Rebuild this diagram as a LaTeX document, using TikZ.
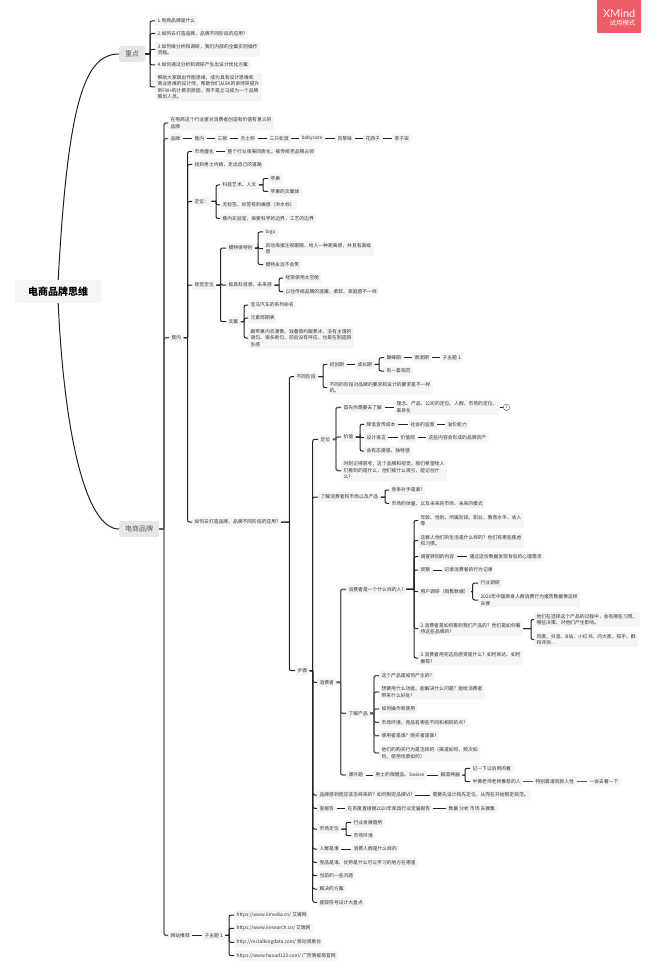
\documentclass[tikz,border=0pt]{standalone}
\usepackage{fontspec}
\setmainfont{Noto Sans CJK SC}
\newfontfamily\badgefont{Lato}
\usepackage{xcolor}
\definecolor{boxgray}{HTML}{F5F5F5}
\definecolor{maingray}{HTML}{E6E6E6}
\definecolor{inkgray}{HTML}{333333}
\definecolor{linkdark}{HTML}{222222}
\definecolor{linkgray}{HTML}{5A5A5A}
\definecolor{badgered}{HTML}{EF5B67}
\tikzset{
  topic/.style={anchor=west,fill=boxgray,rounded corners=1.5pt,text=inkgray,align=left,
    font=\fontsize{4.8}{6.5}\selectfont,inner xsep=2.4pt,inner ysep=2pt,minimum height=10pt},
  maintopic/.style={anchor=west,fill=maingray,rounded corners=2pt,text=linkgray,
    font=\fontsize{7}{9}\selectfont,inner xsep=6pt,minimum height=16pt},
  link/.style={draw=linkdark,line width=1pt},
  heavylink/.style={draw=linkgray,line width=1.4pt},
  bus/.style={to path={(\tikztostart.east) -- (#1,0 |- \tikztostart.east) ++(0,0)
    [rounded corners=2pt] |- (\tikztotarget.west)}}
}
\begin{document}
\begin{tikzpicture}[x=1pt,y=-1pt]
\useasboundingbox (0,0) rectangle (658,976);

\node[anchor=west,fill=boxgray,rounded corners=2pt,font=\fontsize{10}{12}\selectfont\bfseries,
  minimum width=86pt,minimum height=23pt,inner xsep=11pt] (root) at (15,291.5) {电商品牌思维};
\node[maintopic] (key) at (119,54) {重点};
\node[maintopic] (brand) at (119,529) {电商品牌};

\node[topic] (k1) at (155,21) {1.电商品牌是什么};
\node[topic] (k2) at (155,33.5) {2.如何去打造品牌，品牌不同阶段的应用?};
\node[topic] (k3) at (155,49.5) {3.如何做分析和调研，我们内部的全案实则操作\\流程。};
\node[topic] (k4) at (155,65) {4.如何通过分析和调研产生出设计优化方案};
\node[topic] (k5) at (155,87) {帮助大家跳出作图思维，成为具有设计思维和\\商业思维的设计师，帮助你们从5K的讲师突提升\\到FW+的计薪页原因，而不是立马成为一个品牌\\策划人员。};

\node[topic] (mean) at (168,123) {在电商这个行业里对消费者创造有价值有意义的\\品牌};
\node[topic] (names) at (168,138.5) {品牌};
\node[topic] (n1) at (192,138.5) {蕉内};
\node[topic] (n2) at (215,138.5) {三顿};
\node[topic] (n3) at (238,138.5) {杰士邦};
\node[topic] (n4) at (267,138.5) {三只松鼠};
\node[topic] (n5) at (299,138.5) {babycare};
\node[topic] (n6) at (335,138.5) {百草味};
\node[topic] (n7) at (363,138.5) {花西子};
\node[topic] (n8) at (392,138.5) {李子柒};

\node[topic] (bn) at (169,337.7) {蕉内};
\node[topic] (mkt) at (192,151.5) {市场僵化};
\node[topic] (mktb) at (225,151.5) {整个行业审美同质化，被传统老品牌占领};
\node[topic] (men) at (192,164.5) {找到男士内裤，走出自己的道路};
\node[topic] (pos) at (192,201.5) {定位：};
\node[topic] (art) at (220,185) {科技艺术、人文};
\node[topic] (apple) at (268,178.5) {苹果};
\node[topic] (applec) at (268,191.5) {苹果的文案体};
\node[topic] (tag) at (220,205) {无标签、标签有刺痛感（洪水标）};
\node[topic] (lab) at (220,218.5) {蕉内实验室，探索科学的边界，工艺的边界};
\node[topic] (vis) at (192,285) {视觉定位};
\node[topic] (model) at (226,248) {模特很特别};
\node[topic] (logo) at (263,232) {logo};
\node[topic] (gaze) at (263,248.5) {启动海报注视跟随、给人一种距离感，并且有高级\\感};
\node[topic] (smile) at (263,264.5) {模特永远不会笑};
\node[topic] (tech) at (226,285) {极具科技感、未来感};
\node[topic] (cap) at (283,278) {经常使用太空舱};
\node[topic] (warm) at (283,291.7) {以往传统品牌的温暖、柔软、家庭感不一样};
\node[topic] (copy) at (226,321.7) {文案};
\node[topic] (bmw) at (248,305) {宝马汽车的系列命名};
\node[topic] (elem) at (248,318) {元素周期表};
\node[topic] (style) at (248,338) {跟苹果内衣漫像、钱叠简约跟蕉冰、没有主谓的\\语句、很多断句、前后没有呼应、也是在制造陌\\生感};

\node[topic] (how) at (192,522) {如何去打造品牌，品牌不同阶段的应用?};
\node[topic] (stage) at (294,376.7) {不同阶段};
\node[topic] (s1) at (327,364.3) {初创期};
\node[topic] (s2) at (355,364.3) {成长期};
\node[topic] (s3) at (384,357.7) {巅峰期};
\node[topic] (s4) at (412,357.7) {衰退期};
\node[topic] (s5) at (440,357.7) {子主题 1};
\node[topic] (s6) at (384,371) {有一套规范};
\node[topic] (s7) at (327,387.6) {不同的阶段对品牌的要求和设计的要求是不一样\\的。};

\node[topic] (steps) at (295,670.7) {步骤};
\node[topic] (loc) at (318,439.3) {定位};
\node[topic] (first) at (341,407.3) {首先你需要去了解};
\node[topic] (idea) at (394,407.3) {理念、产品、公司的定位、人群、市场的定位、\\差异化};
\node[circle,draw=linkgray,fill=white,text=inkgray,font=\fontsize{4}{4}\selectfont,inner sep=0pt,minimum size=6.5pt] (note) at (506.5,407.3) {1};
\node[topic] (val) at (341,437) {价值};
\node[topic] (v1) at (364,424.3) {降低宣传成本};
\node[topic] (v2) at (408,424.3) {社会的监督};
\node[topic] (v3) at (445,424.3) {溢价能力};
\node[topic] (v4) at (364,437.7) {设计语言};
\node[topic] (v5) at (398,437.7) {价值观};
\node[topic] (v6) at (426,437.7) {这些内容会形成的品牌资产};
\node[topic] (v7) at (364,451) {会有态度感、独特感};
\node[topic] (mind) at (341,470.6) {时刻记得思考，这个品牌和视觉，我们希望给人\\们看到的是什么，他们被什么吸引，能记住什\\么?};
\node[topic] (know) at (318,497) {了解消费者和市场以及产品};
\node[topic] (rival) at (389,490) {竞争对手是谁?};
\node[topic] (size) at (389,503.3) {市场的体量、以及未来的市场、未来的模式};

\node[topic] (cons) at (317,682.3) {消费者};
\node[topic] (who) at (346,589.3) {消费者是一个什么样的人?};
\node[topic] (w1) at (418,520.5) {年龄、性别、所属阶段、职业、教育水平、收入\\等};
\node[topic] (w2) at (418,540.5) {这群人他们的生活是什么样的？他们有哪些焦虑\\和习惯。};
\node[topic] (w3) at (418,556.7) {调查转回的内容};
\node[topic] (w3b) at (467,556.7) {通过这份数据发现背后的心理需求};
\node[topic] (w4) at (418,570) {观察};
\node[topic] (w4b) at (442,570) {记录消费者的行为记录};
\node[topic] (w5) at (418,591.7) {用户调研（销售数据）};
\node[topic] (w5a) at (478,583) {行业调研};
\node[topic] (w5b) at (478,600) {2020年中国单身人群消费行为报告数据像这样\\去搜};
\node[topic] (w6) at (418,628.5) {2.消费者是如何看到我们产品的？他们是如何看\\待这些品牌的?};
\node[topic] (w6a) at (534,619.5) {他们在选择这个产品的过程中，会有哪些习惯、\\哪些决策、对他们产生影响。};
\node[topic] (w6b) at (534,639.5) {百度、抖音、B站、小红书、问大家、知乎、群\\和评测...};
\node[topic] (w7) at (418,658) {3.消费者用完这后感受是什么？如何表达、如何\\推荐?};

\node[topic] (prod) at (346,713.3) {了解产品};
\node[topic] (p1) at (379,675.7) {这个产品是如何产生的?};
\node[topic] (p2) at (379,692) {想要用什么功能、能解决什么问题？能给消费者\\带来什么好处?};
\node[topic] (p3) at (379,709) {如何操作和使用};
\node[topic] (p4) at (379,722.3) {市场环境、竞品有哪些不同和相同的点?};
\node[topic] (p5) at (379,735.7) {使用者是谁？购买者是谁?};
\node[topic] (p6) at (379,753) {他们的购买行为是怎样的（渠道如何、频次如\\何、使用场景如何）};
\node[topic] (ext) at (346,775) {课外题};
\node[topic] (e1) at (373,775) {男士的保健品、Swisse};
\node[topic] (e2) at (438,775) {解酒神器};
\node[topic] (e3) at (470,768.3) {记一下以后用的着};
\node[topic] (e4) at (470,781.7) {半佛老师老师推荐的人};
\node[topic] (e5) at (533,781.7) {特别靠谱同款人性};
\node[topic] (e6) at (587,781.7) {一会去看一下};

\node[topic] (vi) at (317,795) {品牌感到而应该怎样来的？如何制定品牌VI?};
\node[topic] (vib) at (430,795) {需要先设计和先定位、从而在开始制定规范。};
\node[topic] (rep) at (317,808.3) {查报告};
\node[topic] (repa) at (345,808.3) {在百度直接搜2020年家具行业定届报告};
\node[topic] (repb) at (446,808.3) {数据 分析 市场 去搜集};
\node[topic] (mpos) at (317,829) {市场定位};
\node[topic] (mp1) at (351,822.3) {行业发展趋势};
\node[topic] (mp2) at (351,835.7) {市场环境};
\node[topic] (crowd) at (317,849) {人群是谁};
\node[topic] (crowdb) at (351,849) {消费人群是什么样的};
\node[topic] (comp) at (317,862.3) {竞品是谁、优势是什么可以学习的地方在哪里};
\node[topic] (prob) at (317,875.7) {当前的一些问题};
\node[topic] (sol) at (317,889) {解决的方案};
\node[topic] (sym) at (317,902.3) {提取符号设计大盘点};

\node[topic] (web) at (168,935.3) {网站推荐};
\node[topic] (subt) at (202,935.3) {子主题 1};
\node[topic] (u1) at (234,915) {https://www.iimedia.cn/ 艾媒网};
\node[topic] (u2) at (234,928.3) {https://www.iresearch.cn/ 艾瑞网};
\node[topic] (u3) at (234,942.3) {http://mi.talkingdata.com/ 移动观象台};
\node[topic] (u4) at (234,955.7) {https://www.haoad123.com/ 广告情报局官网};

\node[fill=badgered,minimum width=44pt,minimum height=33pt,inner sep=0pt] (badge) at (619,16.5) {};
\node[anchor=east,text=white,font=\badgefont\fontsize{11}{11}\selectfont,inner sep=0pt] (bname) at (635.5,13.5) {XMind};
\node[anchor=east,text=white,font=\fontsize{6.4}{7}\selectfont,inner sep=0pt] (bmode) at (635.5,23.5) {试用模式};

\draw[link] (root.north) .. controls (68,100) and (85,54) .. (key.west);
\draw[link] (root.south) .. controls (64,430) and (85,529) .. (brand.west);

\draw[link] (key) to[bus=150] (k1);
\draw[link] (key) to[bus=150] (k2);
\draw[link] (key) to[bus=150] (k3);
\draw[link] (key) to[bus=150] (k4);
\draw[link] (key) to[bus=150] (k5);

\draw[heavylink] (brand) to[bus=164] (mean);
\draw[heavylink] (brand) to[bus=164] (names);
\draw[heavylink] (brand) to[bus=164] (bn);
\draw[heavylink] (brand) to[bus=164] (web);
\draw[link] (names) to (n1);
\draw[link] (n1) to (n2);
\draw[link] (n2) to (n3);
\draw[link] (n3) to (n4);
\draw[link] (n4) to (n5);
\draw[link] (n5) to (n6);
\draw[link] (n6) to (n7);
\draw[link] (n7) to (n8);

\draw[link] (bn) to[bus=187.5] (mkt);
\draw[link] (bn) to[bus=187.5] (men);
\draw[link] (bn) to[bus=187.5] (pos);
\draw[link] (bn) to[bus=187.5] (vis);
\draw[link] (bn) to[bus=187.5] (how);
\draw[link] (mkt) to (mktb);
\draw[link] (pos) to[bus=216] (art);
\draw[link] (pos) to[bus=216] (tag);
\draw[link] (pos) to[bus=216] (lab);
\draw[link] (art) to[bus=263] (apple);
\draw[link] (art) to[bus=263] (applec);
\draw[link] (vis) to[bus=220.5] (model);
\draw[link] (vis) to[bus=220.5] (tech);
\draw[link] (vis) to[bus=220.5] (copy);
\draw[link] (model) to[bus=258] (logo);
\draw[link] (model) to[bus=258] (gaze);
\draw[link] (model) to[bus=258] (smile);
\draw[link] (tech) to[bus=279] (cap);
\draw[link] (tech) to[bus=279] (warm);
\draw[link] (copy) to[bus=244] (bmw);
\draw[link] (copy) to[bus=244] (elem);
\draw[link] (copy) to[bus=244] (style);

\draw[link] (how) to[bus=289.3] (stage);
\draw[link] (how) to[bus=289.3] (steps);
\draw[link] (stage) to[bus=323] (s1);
\draw[link] (stage) to[bus=323] (s7);
\draw[link] (s1) to (s2);
\draw[link] (s2) to[bus=379] (s3);
\draw[link] (s2) to[bus=379] (s6);
\draw[link] (s3) to (s4);
\draw[link] (s4) to (s5);

\draw[link] (steps) to[bus=312.7] (loc);
\draw[link] (steps) to[bus=312.7] (know);
\draw[link] (steps) to[bus=312.7] (cons);
\draw[link] (steps) to[bus=312.7] (vi);
\draw[link] (steps) to[bus=312.7] (rep);
\draw[link] (steps) to[bus=312.7] (mpos);
\draw[link] (steps) to[bus=312.7] (crowd);
\draw[link] (steps) to[bus=312.7] (comp);
\draw[link] (steps) to[bus=312.7] (prob);
\draw[link] (steps) to[bus=312.7] (sol);
\draw[link] (steps) to[bus=312.7] (sym);

\draw[heavylink] (loc) to[bus=336] (first);
\draw[heavylink] (loc) to[bus=336] (val);
\draw[heavylink] (loc) to[bus=336] (mind);
\draw[link] (first) to (idea);
\draw[link] (idea) to (note);
\draw[link] (val) to[bus=360] (v1);
\draw[link] (val) to[bus=360] (v4);
\draw[link] (val) to[bus=360] (v7);
\draw[link] (v1) to (v2);
\draw[link] (v2) to (v3);
\draw[link] (v4) to (v5);
\draw[link] (v5) to (v6);
\draw[link] (know) to[bus=385] (rival);
\draw[link] (know) to[bus=385] (size);

\draw[heavylink] (cons) to[bus=340.7] (who);
\draw[heavylink] (cons) to[bus=340.7] (prod);
\draw[heavylink] (cons) to[bus=340.7] (ext);
\draw[link] (who) to[bus=414] (w1);
\draw[link] (who) to[bus=414] (w2);
\draw[link] (who) to[bus=414] (w3);
\draw[link] (who) to[bus=414] (w4);
\draw[link] (who) to[bus=414] (w5);
\draw[link] (who) to[bus=414] (w6);
\draw[link] (who) to[bus=414] (w7);
\draw[link] (w3) to (w3b);
\draw[link] (w4) to (w4b);
\draw[link] (w5) to[bus=472.7] (w5a);
\draw[link] (w5) to[bus=472.7] (w5b);
\draw[link] (w6) to[bus=531] (w6a);
\draw[link] (w6) to[bus=531] (w6b);

\draw[heavylink] (prod) to[bus=374] (p1);
\draw[heavylink] (prod) to[bus=374] (p2);
\draw[heavylink] (prod) to[bus=374] (p3);
\draw[heavylink] (prod) to[bus=374] (p4);
\draw[heavylink] (prod) to[bus=374] (p5);
\draw[heavylink] (prod) to[bus=374] (p6);
\draw[link] (ext) to (e1);
\draw[link] (e1) to (e2);
\draw[link] (e2) to[bus=465] (e3);
\draw[link] (e2) to[bus=465] (e4);
\draw[heavylink] (e4) to (e5);
\draw[heavylink] (e5) to (e6);

\draw[link] (vi) to (vib);
\draw[link] (rep) to (repa);
\draw[link] (repa) to (repb);
\draw[link] (mpos) to[bus=346] (mp1);
\draw[link] (mpos) to[bus=346] (mp2);
\draw[link] (crowd) to (crowdb);

\draw[link] (web) to (subt);
\draw[link] (subt) to[bus=229] (u1);
\draw[link] (subt) to[bus=229] (u2);
\draw[link] (subt) to[bus=229] (u3);
\draw[link] (subt) to[bus=229] (u4);

\end{tikzpicture}
\end{document}
